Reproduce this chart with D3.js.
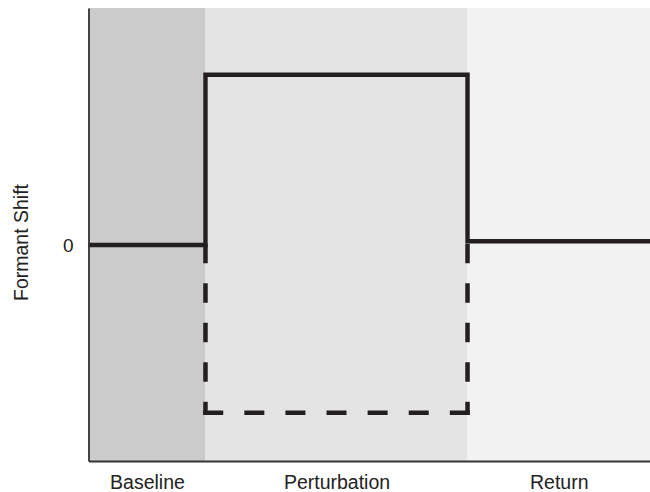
<!DOCTYPE html>
<html>
<head>
<meta charset="utf-8">
<script src="https://cdn.jsdelivr.net/npm/d3@7/dist/d3.min.js"></script>
<style>
  html, body { margin: 0; padding: 0; background: #ffffff; }
  svg { display: block; }
  text { font-family: "Liberation Sans", Arial, Helvetica, sans-serif; fill: #222222; }
</style>
</head>
<body>
<script>
// ---- data ----
const phases = ["Baseline", "Perturbation", "Return"];
const phaseStart = [0, 20, 64.8];          // trial units
const phaseEnd = [20, 64.8, 96];
const responseValues = [0, 1, 0.022];      // solid line (formant shift response)
const perturbationValue = -0.985;          // dashed line during perturbation phase
const yTicks = [0];
const yTickLabels = ["0"];
const yLabel = "Formant Shift";

// ---- styles ----
const phaseColors = ["#cbcbcb", "#e4e4e4", "#f2f2f2"];
const lineColor = "#231f20";
const axisColor = "#333333";

const W = 650, H = 492;
const svg = d3.select("body").append("svg").attr("width", W).attr("height", H);

const x = d3.scaleLinear().domain([0, 96]).range([88.5, 650]);
const y = d3.scaleLinear().domain([-1.268, 1.392]).range([461, 8]);

// shaded phase regions
svg.append("g").selectAll("rect")
  .data(phases)
  .join("rect")
  .attr("x", (d, i) => x(phaseStart[i]))
  .attr("width", (d, i) => x(phaseEnd[i]) - x(phaseStart[i]))
  .attr("y", y.range()[1])
  .attr("height", y.range()[0] - y.range()[1])
  .attr("fill", (d, i) => phaseColors[i]);

// dashed perturbation path (three segments)
const pStart = phaseStart[1], pEnd = phaseEnd[1];
const dashG = svg.append("g")
  .attr("stroke", lineColor).attr("stroke-width", 4.5).attr("fill", "none");
dashG.append("line")
  .attr("x1", x(pStart)).attr("x2", x(pStart))
  .attr("y1", y(0) - 1.4).attr("y2", y(perturbationValue) + 2.25)
  .attr("stroke-dasharray", "19.6 19.9");
dashG.append("line")
  .attr("x1", x(pStart) - 2.25).attr("x2", x(pEnd) + 2.25)
  .attr("y1", y(perturbationValue)).attr("y2", y(perturbationValue))
  .attr("stroke-dasharray", "20 21.1");
dashG.append("line")
  .attr("x1", x(pEnd)).attr("x2", x(pEnd))
  .attr("y1", y(0) - 1.4).attr("y2", y(perturbationValue) + 2.25)
  .attr("stroke-dasharray", "19.6 19.9");

// solid response line
const pts = [];
phases.forEach((p, i) => {
  pts.push([phaseStart[i], responseValues[i]]);
  pts.push([phaseEnd[i], responseValues[i]]);
});
svg.append("path")
  .datum(pts)
  .attr("d", d3.line().x(d => x(d[0])).y(d => y(d[1])))
  .attr("fill", "none")
  .attr("stroke", lineColor)
  .attr("stroke-width", 4.4)
  .attr("stroke-linejoin", "miter");

// axes
const yAxis = svg.append("g")
  .attr("transform", `translate(${x.range()[0]},0)`)
  .call(d3.axisLeft(y).tickValues(yTicks).tickFormat((d, i) => yTickLabels[i])
        .tickSize(0).tickSizeOuter(0).tickPadding(15));
yAxis.select(".domain").attr("stroke", axisColor).attr("stroke-width", 1.8);
yAxis.selectAll("text").style("font-size", "19px").attr("fill", "#222");

const xMid = phases.map((p, i) => (phaseStart[i] + phaseEnd[i]) / 2);
const xAxis = svg.append("g")
  .attr("transform", `translate(0,${y.range()[0]})`)
  .call(d3.axisBottom(x).tickValues(xMid).tickFormat((d, i) => phases[i])
        .tickSize(0).tickSizeOuter(0).tickPadding(14));
xAxis.select(".domain").attr("stroke", axisColor).attr("stroke-width", 2);
xAxis.selectAll("text").style("font-size", "19.5px").attr("fill", "#222");

// y label
svg.append("text")
  .attr("transform", `translate(28,${(y.range()[0] + y.range()[1]) / 2 + 8}) rotate(-90)`)
  .attr("text-anchor", "middle")
  .style("font-size", "19.5px")
  .text(yLabel);
</script>
</body>
</html>
